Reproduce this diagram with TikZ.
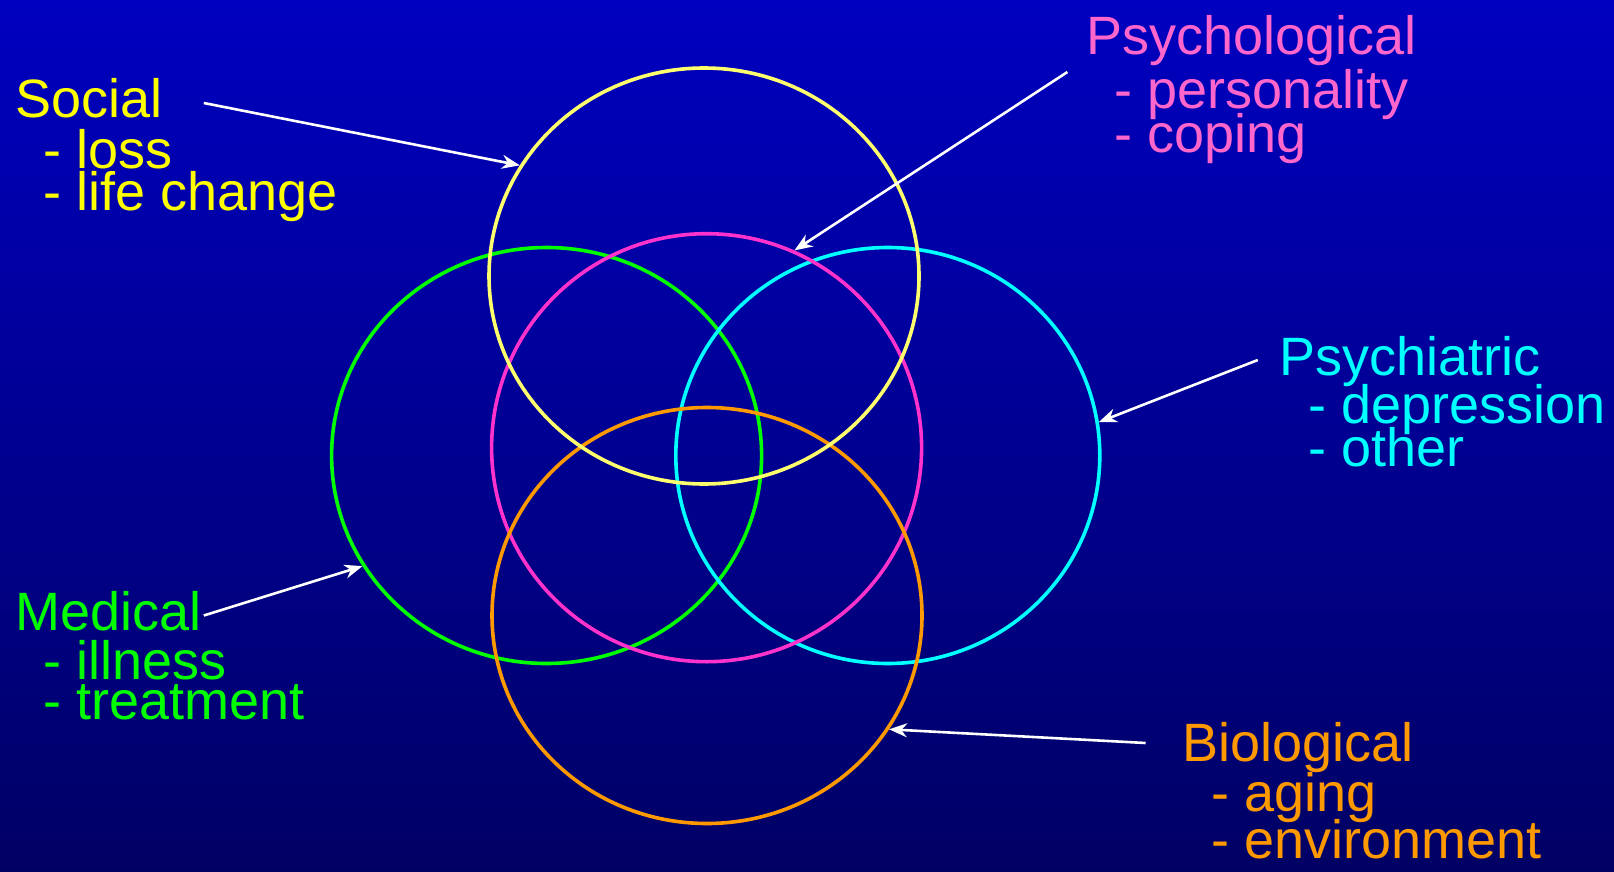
\documentclass[tikz,border=0pt]{standalone}
\usepackage{fontspec}
\setmainfont{Liberation Sans}
\usetikzlibrary{shapes.geometric,arrows.meta}
\definecolor{bgtop}{RGB}{0,0,192}
\definecolor{bgbot}{RGB}{0,0,100}
\definecolor{socY}{RGB}{255,255,0}
\definecolor{socC}{RGB}{255,255,110}
\definecolor{psyT}{RGB}{255,102,204}
\definecolor{psyC}{RGB}{255,51,204}
\definecolor{medG}{RGB}{0,255,0}
\definecolor{piaC}{RGB}{0,255,255}
\definecolor{bioO}{RGB}{255,153,0}
\tikzset{
  ring/.style={draw=#1, line width=3.6pt, ellipse, minimum width=430pt, minimum height=416pt, inner sep=0pt},
  lbl/.style={text=#1, font=\fontsize{54}{60}\selectfont, anchor=base west, inner sep=0pt},
  pointer/.style={draw=white, line width=2.6pt, -{Stealth[length=18pt,width=14pt]}}
}
\begin{document}
\begin{tikzpicture}[x=1pt,y=-1pt]
\shade[top color=bgtop, bottom color=bgbot] (0,0) rectangle (1614,872);
\useasboundingbox (0,0) rectangle (1614,872);
% circles
\node[ring=medG] (green) at (546.6,455.5) {};
\node[ring=piaC, minimum width=424pt] (cyan) at (887.8,455.5) {};
\node[ring=psyC, minimum height=428pt] (magenta) at (706.6,447.7) {};
\node[ring=bioO] (orange) at (707,615.5) {};
\node[ring=socC] (yellow) at (704,276) {};
% labels
\node[lbl=socY] (soc) at (15,118) {Social};
\node[lbl=socY] (soc1) at (43,168) {- loss};
\node[lbl=socY] (soc2) at (43,210) {- life change};
\node[lbl=psyT] (psy) at (1086,55) {Psychological};
\node[lbl=psyT] (psy1) at (1114,109) {- personality};
\node[lbl=psyT] (psy2) at (1114,153) {- coping};
\node[lbl=piaC] (pia) at (1279,375) {Psychiatric};
\node[lbl=piaC] (pia1) at (1308,423) {- depression};
\node[lbl=piaC] (pia2) at (1308,466) {- other};
\node[lbl=medG] (med) at (15,630) {Medical};
\node[lbl=medG] (med1) at (43,679) {- illness};
\node[lbl=medG] (med2) at (43,719) {- treatment};
\node[lbl=bioO] (bio) at (1182,761) {Biological};
\node[lbl=bioO] (bio1) at (1211,811) {- aging};
\node[lbl=bioO] (bio2) at (1211,858) {- environment};
% arrow starts
\coordinate (sS) at (203.8,103);
\coordinate (sP) at (1067.4,72);
\coordinate (sQ) at (1257.8,360);
\coordinate (sM) at (203.8,615.5);
\coordinate (sB) at (1145.6,743);
\draw[pointer] (sS) -- (yellow.149);
\draw[pointer] (sP) -- (magenta.66);
\draw[pointer] (sQ) -- (cyan.9);
\draw[pointer] (sM) -- (green.211.7);
\draw[pointer] (sB) -- (orange.328.7);
\end{tikzpicture}
\end{document}
